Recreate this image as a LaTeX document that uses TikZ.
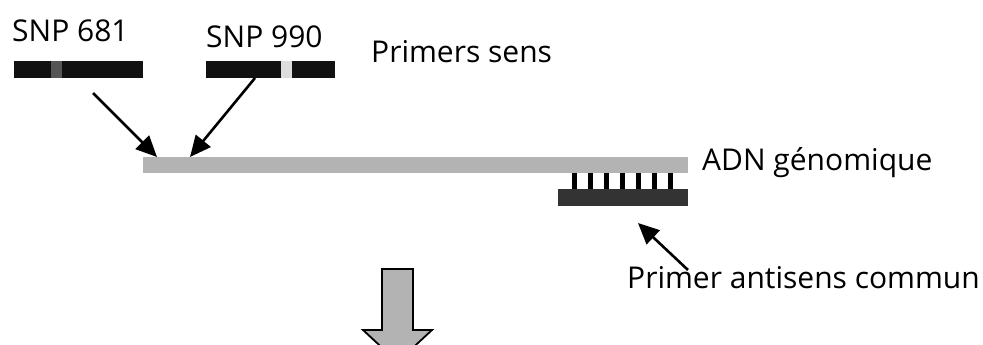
\documentclass[tikz,border=0pt]{standalone}
\usepackage{fontspec}
\setmainfont{Open Sans}
\usetikzlibrary{arrows.meta}
\definecolor{bardark}{HTML}{111111}
\definecolor{dnagrey}{HTML}{B3B3B3}
\definecolor{primerdark}{HTML}{333333}
\definecolor{snpmid}{HTML}{555555}
\definecolor{snplight}{HTML}{DDDDDD}
\tikzset{
  lbl/.style={font=\fontsize{30}{33}\selectfont, inner sep=0pt, anchor=base west},
  blk/.style={inner sep=0pt, outer sep=0pt, draw=none},
  ptr/.style={line width=2.6pt, -{Triangle[length=21pt,width=19pt]}, shorten <=0pt}
}
\begin{document}
\begin{tikzpicture}[x=1pt,y=-1pt]
\useasboundingbox (0,0) rectangle (983,345);
\clip (0,0) rectangle (983,345);
% labels
\node[lbl] (t681) at (12,42) {SNP 681};
\node[lbl] (t990) at (206,48) {SNP 990};
\node[lbl] (tsens) at (371,63) {Primers sens};
\node[lbl] (tadn) at (702,170) {ADN génomique};
\node[lbl] (tanti) at (627,288) {Primer antisens commun};
% primer bars
\node[blk, fill=bardark, minimum width=129pt, minimum height=17pt] (p681) at (78.5,69.5) {};
\node[blk, fill=snpmid, minimum width=11pt, minimum height=17pt] (s681) at (56.5,69.5) {};
\node[blk, fill=bardark, minimum width=129pt, minimum height=17pt] (p990) at (270.5,69.5) {};
\node[blk, fill=snplight, minimum width=11pt, minimum height=17pt] (s990) at (286.5,69.5) {};
% genomic DNA
\node[blk, fill=dnagrey, minimum width=545pt, minimum height=16pt] (dna) at (415.5,165) {};
% antisense primer
\node[blk, fill=primerdark, minimum width=130pt, minimum height=17pt] (anti) at (623,197.5) {};
\foreach \i in {0,...,6}{
  \node[blk, fill=black, minimum width=5pt, minimum height=16pt] (tooth\i) at (574+16*\i,181) {};
}
% arrow coordinates
\coordinate (a1s) at (93,93);
\coordinate (a1e) at (157,157);
\coordinate (a2s) at (255,78);
\coordinate (a2e) at (190,157);
\coordinate (a3s) at (688,270);
\coordinate (a3e) at (638,223);
\draw[ptr] (a1s) -- (a1e);
\draw[ptr] (a2s) -- (a2e);
\draw[ptr] (a3s) -- (a3e);
% big down arrow
\draw[fill=dnagrey, line width=1.8pt, line join=miter]
  (382,269) -- (413,269) -- (413,330) -- (432,330) -- (397.5,362) -- (363,330) -- (382,330) -- cycle;
\end{tikzpicture}
\end{document}
